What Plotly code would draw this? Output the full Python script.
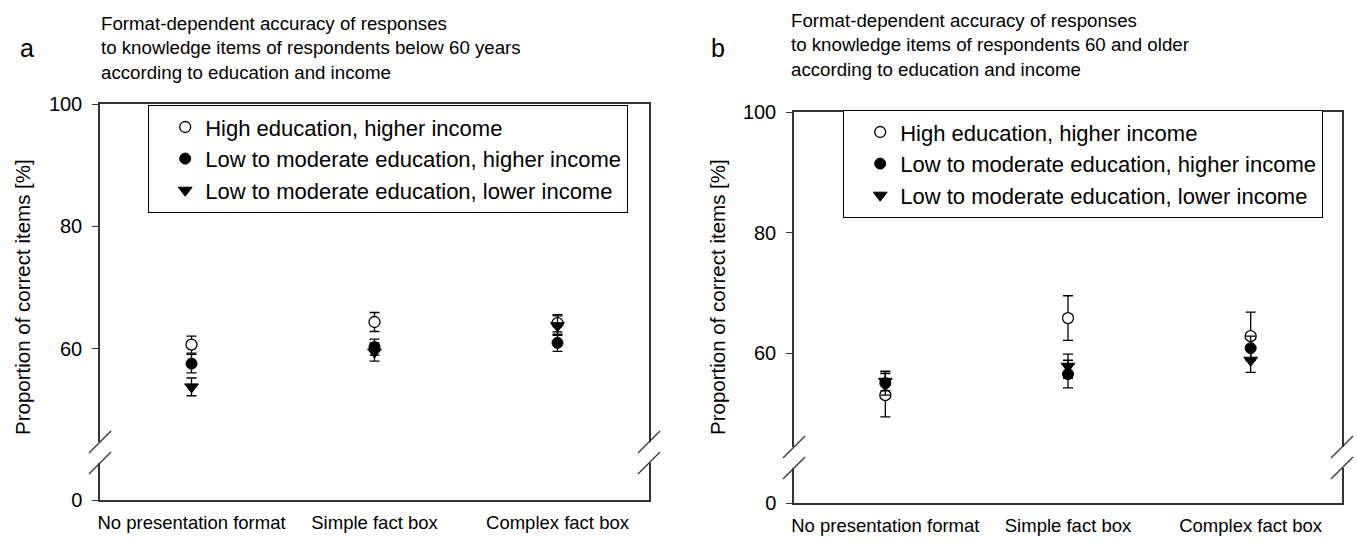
import plotly.graph_objects as go

# ---------------- data ----------------
categories = ["No presentation format", "Simple fact box", "Complex fact box"]
x_pos = [1, 2, 3]
series_names = [
    "High education, higher income",
    "Low to moderate education, higher income",
    "Low to moderate education, lower income",
]

# panel a: respondents below 60 years (mean, error)
a_high = [60.7, 64.4, 64.2]
a_high_err = [1.4, 1.55, 1.4]
a_lowhi = [57.6, 60.3, 61.0]
a_lowhi_err = [1.5, 1.3, 1.4]
a_lowlo = [53.8, 59.5, 63.8]
a_lowlo_err = [1.45, 1.5, 1.6]

# panel b: respondents 60 and older (mean, error)
b_high = [53.0, 65.8, 62.8]
b_high_err = [3.6, 3.7, 4.0]
b_lowhi = [55.0, 56.5, 60.8]
b_lowhi_err = [2.0, 2.3, 2.0]
b_lowlo = [55.3, 57.8, 58.8]
b_lowlo_err = [1.6, 2.0, 2.0]

upper_ticks = [60, 80, 100]
lower_ticks = [0]

title_a = ("Format-dependent accuracy of responses<br>to knowledge items of respondents below 60 years"
           "<br>according to education and income")
title_b = ("Format-dependent accuracy of responses<br>to knowledge items of respondents 60 and older"
           "<br>according to education and income")
ytitle = "Proportion of correct items [%]"

# ---------------- layout helpers ----------------
W, H = 1357, 544
FONT = "Arial, Liberation Sans, sans-serif"


def fx(p):
    return p / W


def fy(p):
    return 1 - p / H


marker_styles = [
    dict(symbol="circle", size=11, color="white", line=dict(color="black", width=1.3)),
    dict(symbol="circle", size=11, color="black", line=dict(color="black", width=1)),
    dict(symbol="triangle-down", size=12, color="black", line=dict(color="black", width=1)),
]

fig = go.Figure()

panels = [
    dict(xa="x", ya="y", xl="x2", yl="y2", legend="legend",
         series=[(a_high, a_high_err), (a_lowhi, a_lowhi_err), (a_lowlo, a_lowlo_err)]),
    dict(xa="x3", ya="y3", xl="x4", yl="y4", legend="legend2",
         series=[(b_high, b_high_err), (b_lowhi, b_lowhi_err), (b_lowlo, b_lowlo_err)]),
]

for p in panels:
    for name, (vals, errs), ms in zip(series_names, p["series"], marker_styles):
        fig.add_trace(go.Scatter(
            x=x_pos, y=vals, mode="markers", name=name,
            marker=ms,
            error_y=dict(type="data", array=errs, visible=True, color="black",
                         thickness=1.3, width=5),
            xaxis=p["xa"], yaxis=p["ya"], legend=p["legend"], cliponaxis=False,
        ))
    # empty trace so the below-break axis segment is drawn
    fig.add_trace(go.Scatter(x=[], y=[], mode="markers", showlegend=False,
                             hoverinfo="skip", xaxis=p["xl"], yaxis=p["yl"]))

ytickfont = dict(family=FONT, size=20, color="black")
xtickfont = dict(family=FONT, size=18.5, color="black")

# pixel geometry of each panel (broken y axis: upper part + short part near 0)
geo = {
    "a": dict(left=100, right=649, top=104, gap_top=442, gap_bot=463, bottom=500,
              up_range=[44.8, 100], low_range=[0, 6.0]),
    "b": dict(left=794, right=1342, top=112, gap_top=447, gap_bot=468, bottom=503,
              up_range=[44.4, 100], low_range=[0, 5.8]),
}

axis_common = dict(showline=True, linecolor="#333333", linewidth=1.5, showgrid=False,
                   zeroline=False, fixedrange=True, automargin=False)


def set_panel(g, xu, yu, xl, yl):
    xdom = [fx(g["left"]), fx(g["right"])]
    fig.layout[xu] = dict(domain=xdom, range=[0.5, 3.5], anchor=yu.replace("axis", ""),
                          side="top", showticklabels=False, ticks="", mirror=False, **axis_common)
    fig.layout[yu] = dict(domain=[fy(g["gap_top"]), fy(g["top"])], range=g["up_range"],
                          anchor=xu.replace("axis", ""), tickvals=upper_ticks,
                          ticks="outside", ticklen=6, tickwidth=1.3, tickcolor="#333333",
                          mirror=True, tickfont=ytickfont, ticklabelstandoff=6, **axis_common)
    fig.layout[xl] = dict(domain=xdom, range=[0.5, 3.5], anchor=yl.replace("axis", ""),
                          tickvals=x_pos, ticktext=categories, ticks="", mirror=False,
                          tickfont=xtickfont, ticklabelstandoff=5, **axis_common)
    fig.layout[yl] = dict(domain=[fy(g["bottom"]), fy(g["gap_bot"])], range=g["low_range"],
                          anchor=xl.replace("axis", ""), tickvals=lower_ticks,
                          ticks="outside", ticklen=6, tickwidth=1.3, tickcolor="#333333",
                          mirror=True, tickfont=ytickfont, ticklabelstandoff=6, **axis_common)


set_panel(geo["a"], "xaxis", "yaxis", "xaxis2", "yaxis2")
set_panel(geo["b"], "xaxis3", "yaxis3", "xaxis4", "yaxis4")

# axis-break slashes
shapes = []
for g in geo.values():
    for xp in (g["left"], g["right"]):
        for yp in (g["gap_top"], g["gap_bot"]):
            shapes.append(dict(type="line", xref="paper", yref="paper",
                               x0=fx(xp - 11), y0=fy(yp + 11), x1=fx(xp + 11), y1=fy(yp - 11),
                               line=dict(color="#333333", width=1.3)))

annotations = [
    dict(text=title_a, x=fx(99), y=fy(11), xanchor="left", yanchor="top", align="left",
         font=dict(family=FONT, size=18.7, color="black")),
    dict(text=title_b, x=fx(789), y=fy(8), xanchor="left", yanchor="top", align="left",
         font=dict(family=FONT, size=18.7, color="black")),
    dict(text="a", x=fx(27), y=fy(48), xanchor="center", yanchor="middle",
         font=dict(family=FONT, size=25, color="black")),
    dict(text="b", x=fx(718), y=fy(48), xanchor="center", yanchor="middle",
         font=dict(family=FONT, size=25, color="black")),
    dict(text=ytitle, x=fx(22), y=fy(297), textangle=-90, xanchor="center", yanchor="middle",
         font=dict(family=FONT, size=20.5, color="black")),
    dict(text=ytitle, x=fx(717), y=fy(297), textangle=-90, xanchor="center", yanchor="middle",
         font=dict(family=FONT, size=20.5, color="black")),
]
for a in annotations:
    a.update(xref="paper", yref="paper", showarrow=False)

legend_common = dict(xref="paper", yref="paper", xanchor="left", yanchor="top",
                     bgcolor="white", bordercolor="black", borderwidth=1.2,
                     font=dict(family=FONT, size=22, color="black"),
                     indentation=16, tracegroupgap=0)

fig.update_layout(
    width=W, height=H,
    margin=dict(l=0, r=0, t=0, b=0, autoexpand=False),
    paper_bgcolor="white", plot_bgcolor="white",
    font=dict(family=FONT, color="black"),
    shapes=shapes, annotations=annotations,
    legend=dict(x=fx(148), y=fy(105), **legend_common),
    legend2=dict(x=fx(843), y=fy(110), **legend_common),
)

fig.write_html(
    "out.html",
    config={"displayModeBar": False},
    post_script="document.documentElement.style.margin='0';document.body.style.margin='0';"
                "document.body.style.overflow='hidden';",
)
